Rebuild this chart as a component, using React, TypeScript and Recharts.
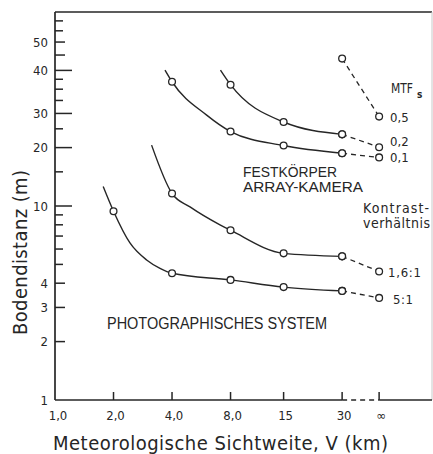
import { LineChart, Line, XAxis, YAxis, ReferenceLine } from 'recharts'

const INK = '#262626'

// visibility axis (km), log scale; "∞" column is drawn at a fixed spot past 30
const V_INF = 46.5
const X_TICKS = [1, 2, 4, 8, 15, 30, V_INF]
const X_LABELS = ['1,0', '2,0', '4,0', '8,0', '15', '30', '∞']
// measured columns carry a circle marker
const MEASURED = [2, 4, 8, 15, 30, V_INF]

// ground distance axis (m), log scale; printed labels as in the original figure
const Y_TICKS = [1, 2, 3, 4, 5, 6, 7, 8, 9, 10, 15, 20, 25, 30, 35, 40, 45, 50, 60, 70, 80, 90]
const Y_LABELS: Record<number, string> = { 1: '1', 2: '2', 3: '3', 4: '4', 10: '10', 20: '20', 30: '30', 50: '40', 70: '50' }
const Y_LONG = [10, 20, 30, 50]
const Y_MID = [2, 3, 4, 60, 70]

// Festkörper array-kamera, MTF_s
const mtf05V = [30]
const mtf05D = [57.5]
const mtf05Inf = 28.9
const mtf02V = [7.1, 8, 15, 30]
const mtf02D = [50.2, 42.2, 27.1, 23.4]
const mtf02Inf = 20.1
const mtf01V = [3.68, 4, 6.03, 8, 15, 30]
const mtf01D = [50.2, 43.7, 29.4, 24.2, 20.5, 18.7]
const mtf01Inf = 17.8

// photographisches System, Kontrastverhältnis
const k16V = [3.14, 4, 4.95, 7.06, 8, 15, 30]
const k16D = [20.6, 11.6, 9.9, 8.0, 7.5, 5.7, 5.5]
const k16Inf = 4.6
const k5V = [1.77, 2, 2.43, 2.96, 3.47, 4, 8, 15, 30]
const k5D = [12.6, 9.4, 6.45, 5.27, 4.77, 4.5, 4.16, 3.82, 3.65]
const k5Inf = 3.36

const pts = (v: number[], d: number[]) => v.map((x, i) => ({ v: x, d: d[i] }))
const tail = (v: number[], d: number[], inf: number) => [
  { v: v[v.length - 1], d: d[d.length - 1] },
  { v: V_INF, d: inf },
]

const curves = [
  { id: 'mtf05', v: mtf05V, d: mtf05D, inf: mtf05Inf },
  { id: 'mtf02', v: mtf02V, d: mtf02D, inf: mtf02Inf },
  { id: 'mtf01', v: mtf01V, d: mtf01D, inf: mtf01Inf },
  { id: 'k16', v: k16V, d: k16D, inf: k16Inf },
  { id: 'k5', v: k5V, d: k5D, inf: k5Inf },
]

const Marker = (p: any) => {
  if (!MEASURED.includes(p.payload.v)) return <g key={p.key} />
  return <circle key={p.key} cx={p.cx} cy={p.cy} r={3.4} fill="#fff" stroke={INK} strokeWidth={1.3} />
}

const NUM_FONT = '"DejaVu Sans Condensed", "DejaVu Sans", sans-serif'
const CAP_FONT = '"Liberation Sans Narrow", "Liberation Sans", sans-serif'

const XTick = (props: any) => {
  const x = Number(props.x)
  const y = Number(props.y)
  const i = X_TICKS.indexOf(props.payload.value)
  return (
    <g>
      {i > 0 && <path d={`M${x},${y}V${y - 8}`} stroke={INK} strokeWidth={1.5} fill="none" />}
      <text x={x + (i === 0 ? 3 : 2)} y={y + 15} textAnchor="middle" dominantBaseline="central"
        fontFamily={NUM_FONT} fontSize={13} fill={INK}>{X_LABELS[i]}</text>
    </g>
  )
}

const YTick = (props: any) => {
  const x = Number(props.x)
  const y = Number(props.y)
  const v = props.payload.value
  const len = Y_LONG.includes(v) ? 17 : Y_MID.includes(v) ? 10 : 8
  return (
    <g>
      {v > 1 && <path d={`M${x},${y}H${x + len}`} stroke={INK} strokeWidth={1.5} fill="none" />}
      {Y_LABELS[v] && (
        <text x={x - 7} y={y} textAnchor="end" dominantBaseline="central"
          fontFamily={NUM_FONT} fontSize={13} fill={INK}>{Y_LABELS[v]}</text>
      )}
    </g>
  )
}

export default function App() {
  return (
    <div style={{ position: 'relative', width: 433, height: 454, background: '#fff' }}>
      <style>{'body{margin:0}'}</style>
      <LineChart width={433} height={454} margin={{ top: 12, right: 1, bottom: 0, left: 0 }}>
        <XAxis type="number" dataKey="v" scale="log" domain={[1, 87]} allowDataOverflow
          ticks={X_TICKS} interval={0} tick={XTick} tickLine={false} axisLine={false}
          tickSize={0} tickMargin={0} height={54} />
        <YAxis type="number" dataKey="d" scale="log" domain={[1, 100]} allowDataOverflow
          ticks={Y_TICKS} interval={0} tick={YTick} tickLine={false}
          axisLine={{ stroke: INK, strokeWidth: 1.7 }} tickSize={0} tickMargin={0} width={55} />
        <ReferenceLine y={100} stroke={INK} strokeWidth={1.5} />
        <ReferenceLine x={87} stroke="#c8c8c8" strokeWidth={1} />
        <ReferenceLine segment={[{ x: 1, y: 1 }, { x: 30, y: 1 }]} stroke={INK} strokeWidth={1.7} />
        <ReferenceLine segment={[{ x: 30, y: 1 }, { x: V_INF, y: 1 }]} stroke={INK} strokeWidth={1.5} strokeDasharray="5 4" />
        <ReferenceLine segment={[{ x: V_INF, y: 1 }, { x: 87, y: 1 }]} stroke={INK} strokeWidth={1.7} />
        {curves.map((c) => (
          <Line key={c.id + '-dash'} data={tail(c.v, c.d, c.inf)} dataKey="d" type="linear"
            stroke={INK} strokeWidth={1.3} strokeDasharray="5 4" dot={Marker} activeDot={false}
            isAnimationActive={false} />
        ))}
        {curves.filter((c) => c.v.length > 1).map((c) => (
          <Line key={c.id} data={pts(c.v, c.d)} dataKey="d" type="monotone"
            stroke={INK} strokeWidth={1.4} dot={Marker} activeDot={false} isAnimationActive={false} />
        ))}
      </LineChart>
      <svg width={433} height={454} style={{ position: 'absolute', left: 0, top: 0, pointerEvents: 'none' }}>
        <g fill={INK} fontFamily={NUM_FONT} fontSize={13} dominantBaseline="central">
          <text x={391} y={87.5} fontSize={13.5} textLength={22} lengthAdjust="spacingAndGlyphs">MTF</text>
          <text x={417} y={94.5} fontSize={10} fontWeight="bold">s</text>
          <text x={390} y={117}>0,5</text>
          <text x={390} y={141}>0,2</text>
          <text x={390} y={157}>0,1</text>
          <text x={363} y={208} fontSize={14} textLength={66} lengthAdjust="spacing">Kontrast-</text>
          <text x={363} y={223} fontSize={14} textLength={67} lengthAdjust="spacing">verhältnis</text>
          <text x={388} y={272} textLength={33} lengthAdjust="spacing">1,6:1</text>
          <text x={393} y={299} textLength={20} lengthAdjust="spacing">5:1</text>
        </g>
        <g fill={INK} fontFamily={CAP_FONT} fontSize={14.5} dominantBaseline="central">
          <text x={243} y={171.5} textLength={94} lengthAdjust="spacingAndGlyphs">FESTKÖRPER</text>
          <text x={243} y={186.5} textLength={120} lengthAdjust="spacingAndGlyphs">ARRAY-KAMERA</text>
          <text x={107} y={323.5} fontSize={16} textLength={220} lengthAdjust="spacingAndGlyphs">PHOTOGRAPHISCHES SYSTEM</text>
        </g>
        <g fill={INK} fontFamily={NUM_FONT} fontSize={20} dominantBaseline="central">
          <text x={53} y={443} textLength={335} lengthAdjust="spacing">Meteorologische Sichtweite, V (km)</text>
          <text x={0} y={0} transform="translate(20 335) rotate(-90)" textLength={165} lengthAdjust="spacing">Bodendistanz (m)</text>
        </g>
      </svg>
    </div>
  )
}
